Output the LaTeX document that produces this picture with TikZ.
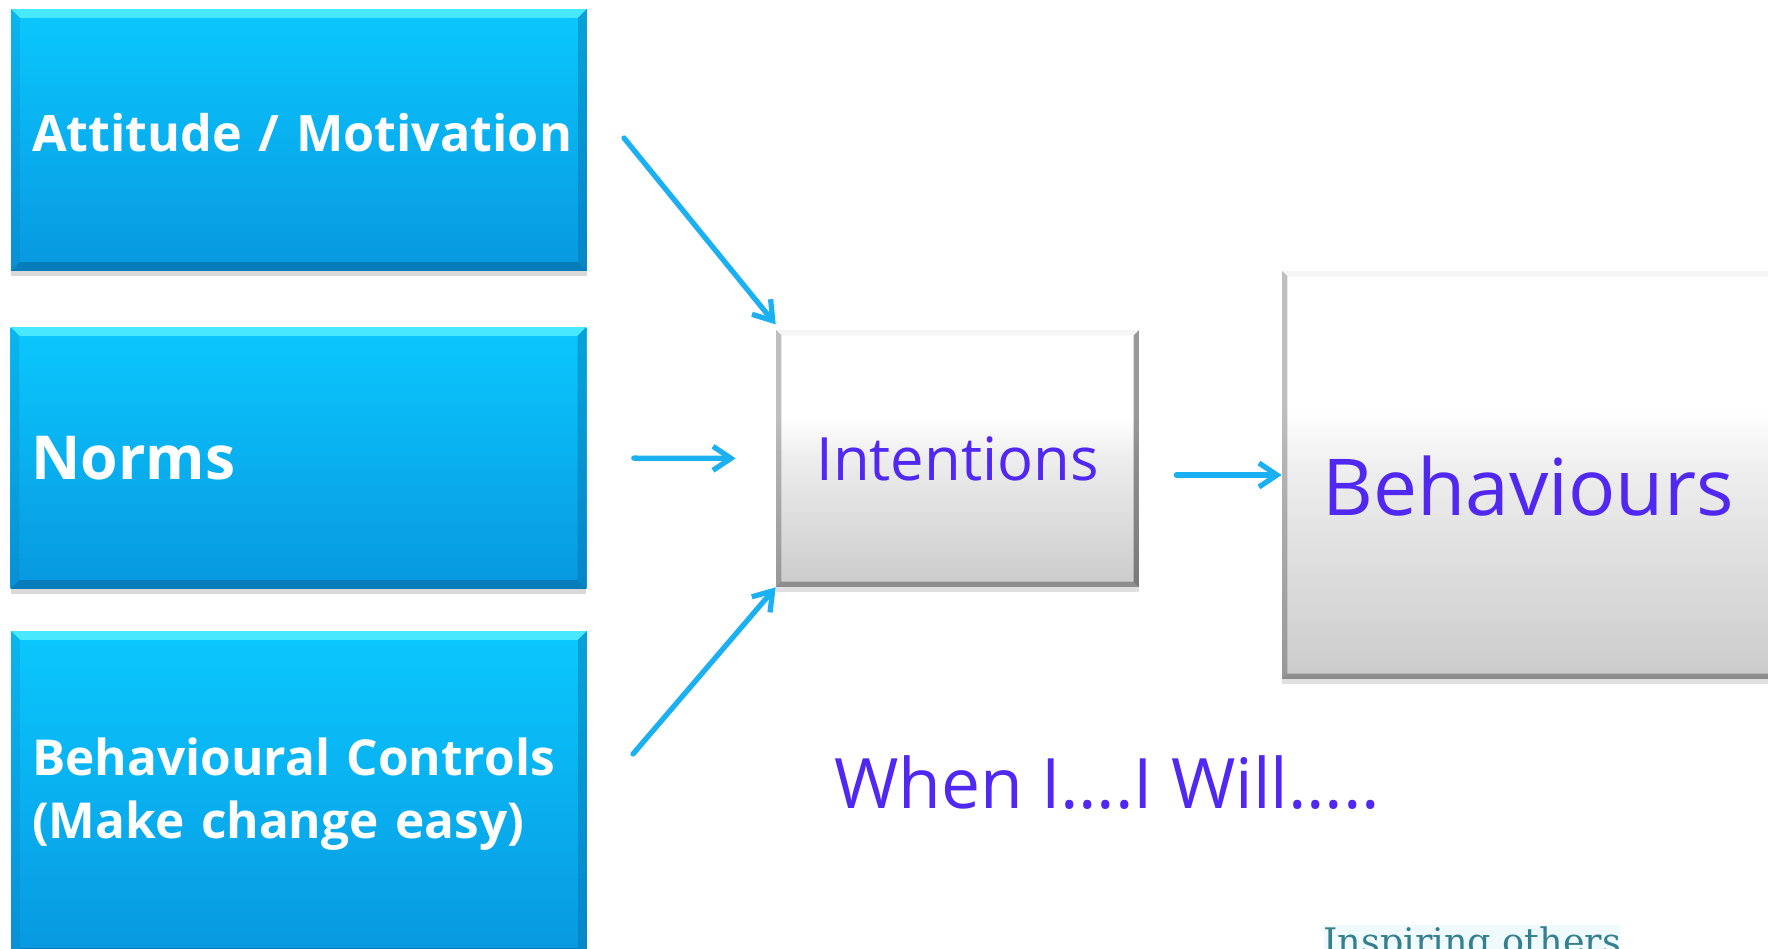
\documentclass[tikz,border=0pt]{standalone}
\usepackage{fontspec}
\setmainfont{Open Sans}
\newfontfamily\logofont{DejaVu Serif}
\usetikzlibrary{arrows.meta,positioning,calc,shadows}
\definecolor{cyantop}{HTML}{0AC8FE}
\definecolor{cyanbot}{HTML}{0898E0}
\definecolor{bevellight}{HTML}{48E8FF}
\definecolor{beveldark}{HTML}{0672AA}
\definecolor{arrowblue}{HTML}{1BB0F2}
\definecolor{violet}{HTML}{5028F2}
\definecolor{greybot}{HTML}{CBCBCB}
\definecolor{greymid}{HTML}{EDEDED}
\definecolor{logoteal}{HTML}{357F8E}
\definecolor{logobg}{HTML}{EEFAFC}
% white upper half, fading to grey towards the bottom
\pgfdeclareverticalshading{greyfade}{100bp}{color(0bp)=(greybot); color(25bp)=(greybot);
  color(50bp)=(greymid); color(58bp)=(white); color(100bp)=(white)}

\begin{document}
\begin{tikzpicture}[
  x=0.02cm, y=-0.02cm,
  bluebox/.style={rectangle, top color=cyantop, bottom color=cyanbot,
    text=white, font=\bfseries, align=left, text width=10.68cm, inner xsep=0.42cm,
    drop shadow={shadow xshift=0pt, shadow yshift=-3pt, opacity=.3},
    path picture={
      \fill[bevellight] (path picture bounding box.north west) -- (path picture bounding box.north east)
        -- ([shift={(-5pt,-5pt)}]path picture bounding box.north east)
        -- ([shift={(5pt,-5pt)}]path picture bounding box.north west) -- cycle;
      \fill[beveldark, opacity=.7] (path picture bounding box.south west) -- (path picture bounding box.south east)
        -- ([shift={(-5pt,5pt)}]path picture bounding box.south east)
        -- ([shift={(5pt,5pt)}]path picture bounding box.south west) -- cycle;
      \fill[beveldark, opacity=.45] (path picture bounding box.north east) -- (path picture bounding box.south east)
        -- ([shift={(-5pt,5pt)}]path picture bounding box.south east)
        -- ([shift={(-5pt,-5pt)}]path picture bounding box.north east) -- cycle;
      \fill[beveldark, opacity=.2] (path picture bounding box.north west) -- (path picture bounding box.south west)
        -- ([shift={(5pt,5pt)}]path picture bounding box.south west)
        -- ([shift={(5pt,-5pt)}]path picture bounding box.north west) -- cycle;
    }},
  greybox/.style={rectangle, shading=greyfade, text=violet,
    drop shadow={shadow xshift=0pt, shadow yshift=-3pt, opacity=.25},
    path picture={
      \fill[black, opacity=.04] (path picture bounding box.north west) -- (path picture bounding box.north east)
        -- ([shift={(-3pt,-3pt)}]path picture bounding box.north east)
        -- ([shift={(3pt,-3pt)}]path picture bounding box.north west) -- cycle;
      \fill[black, opacity=.4] (path picture bounding box.north east) -- (path picture bounding box.south east)
        -- ([shift={(-3pt,3pt)}]path picture bounding box.south east)
        -- ([shift={(-3pt,-3pt)}]path picture bounding box.north east) -- cycle;
      \fill[black, opacity=.3] (path picture bounding box.south west) -- (path picture bounding box.south east)
        -- ([shift={(-3pt,3pt)}]path picture bounding box.south east)
        -- ([shift={(3pt,3pt)}]path picture bounding box.south west) -- cycle;
      \fill[black, opacity=.25] (path picture bounding box.north west) -- (path picture bounding box.south west)
        -- ([shift={(3pt,3pt)}]path picture bounding box.south west)
        -- ([shift={(3pt,-3pt)}]path picture bounding box.north west) -- cycle;
    }},
  arr/.style={-{Straight Barb[length=3.6mm,width=4.8mm]}, draw=arrowblue, line width=3pt, line cap=round}
]
\useasboundingbox (0,0) rectangle (1768,949);
\clip (0,0) rectangle (1768,949);

% three inputs on the left
\node[bluebox, minimum height=5.24cm, font=\bfseries\fontsize{28.6}{34}\selectfont] (att) at (299,140)
  {\raisebox{0.15cm}[\height][\depth]{Attitude / Motivation}};
\node[bluebox, minimum height=5.24cm, font=\bfseries\fontsize{34.5}{40}\selectfont] (nrm) at (298.5,458) {Norms};
\node[bluebox, minimum height=6.52cm, font=\bfseries\fontsize{28.2}{35.7}\selectfont] (ctl) at (299,794)
  {Behavioural Controls\\(Make change easy)};

% intentions and behaviours
\node[greybox, minimum width=7.26cm, minimum height=5.14cm, font=\fontsize{34}{40}\selectfont] (int) at (957.5,458.5) {Intentions};
\node[greybox, minimum width=9.84cm, minimum height=8.16cm, font=\fontsize{44.7}{50}\selectfont] (beh) at (1528,475)
  {\raisebox{-0.23cm}[\height][\depth]{Behaviours}};

\node[anchor=base west, inner sep=0pt, text=violet, font=\fontsize{39.6}{46}\selectfont] (when) at (834,808) {When I….I Will…..};

% logo strip at the bottom edge
\fill[logobg] (1324,925) rectangle (1620,949);
\node[anchor=base west, inner sep=0pt, text=logoteal, font=\logofont\fontsize{20.8}{24}\selectfont] (logo) at (1323,954) {Inspiring others};

% connectors
\coordinate (attout) at (624,138);
\coordinate (ctlout) at (633,754);
\draw[arr] (attout) -- ([yshift=3pt]int.north west);
\draw[arr, shorten <=0.94cm, shorten >=0.8cm] (nrm.east) -- (int.west);
\draw[arr] (ctlout) -- (int.south west);
\draw[arr, shorten <=0.74cm] (int.east |- beh.west) -- (beh.west);
\end{tikzpicture}
\end{document}
